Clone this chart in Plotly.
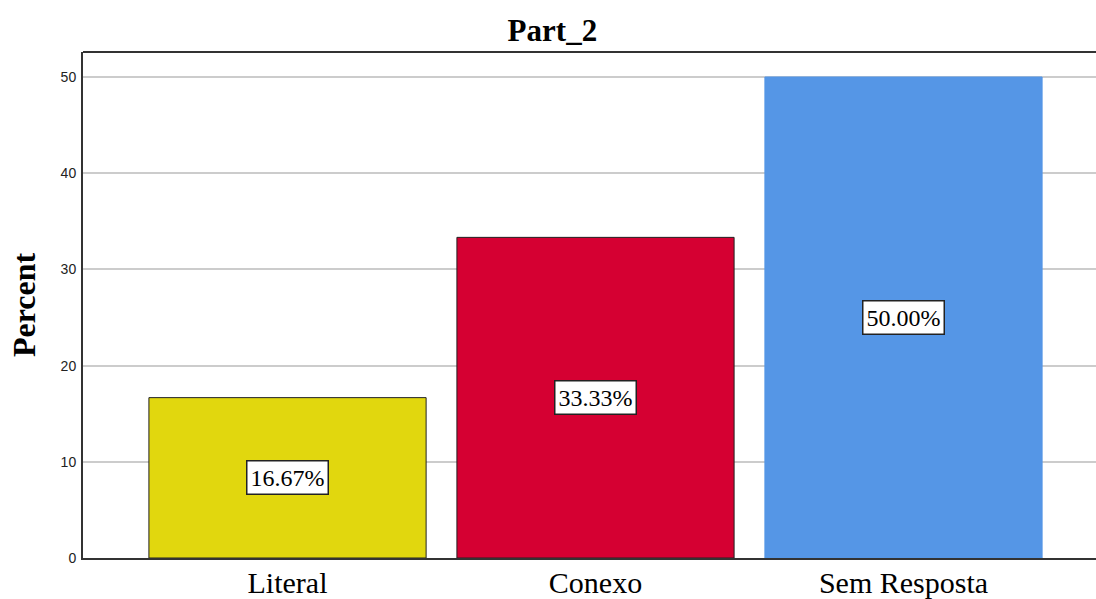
import plotly.graph_objects as go

categories = ["Literal", "Conexo", "Sem Resposta"]
percent = [16.67, 33.33, 50.00]
colors = ["#E1D70E", "#D50032", "#5596E6"]
outline = ["#222222", "#222222", "#5596E6"]
y_ticks = [0, 10, 20, 30, 40, 50]

pos = list(range(len(categories)))

fig = go.Figure()
fig.add_trace(go.Bar(
    x=pos, y=percent, width=0.9,
    marker=dict(color=colors, line=dict(color=outline, width=1)),
    hoverinfo="skip",
))

for xi, v in zip(pos, percent):
    fig.add_annotation(
        x=xi, y=v / 2, xref="x", yref="y",
        text=f"{v:.2f}%", showarrow=False,
        font=dict(family="Liberation Serif", size=24, color="black"),
        bgcolor="white", bordercolor="#222222", borderwidth=1.5, borderpad=3,
    )

# y-axis title
fig.add_annotation(
    x=-0.0582, y=0.5, xref="paper", yref="paper", textangle=-90,
    text="<b>Percent</b>", showarrow=False, xanchor="center", yanchor="middle",
    font=dict(family="Liberation Serif", size=32, color="black"),
)

fig.add_shape(type="line", xref="paper", yref="paper", x0=0, x1=1, y0=1, y1=1,
              line=dict(color="#333333", width=2))

fig.update_layout(
    width=1096, height=599,
    margin=dict(l=83, r=0, t=52, b=41),
    paper_bgcolor="white", plot_bgcolor="white",
    showlegend=False,
    title=dict(text="<b>Part_2</b>", x=0.504, xanchor="center", y=0.95, yanchor="middle",
               xref="container",
               font=dict(family="Liberation Serif", size=31, color="black")),
    xaxis=dict(
        range=[-0.664, 2.625], tickmode="array", tickvals=pos, ticktext=categories,
        showgrid=False, zeroline=False, showline=True, linecolor="#333333", linewidth=2,
        ticks="", automargin=False, ticklabelstandoff=-3,
        tickfont=dict(family="Liberation Serif", size=30, color="black"),
    ),
    yaxis=dict(
        range=[0, 52.6], tickmode="array", tickvals=y_ticks,
        showgrid=True, gridcolor="#cccccc", gridwidth=1.5, zeroline=False,
        showline=True, linecolor="#333333", linewidth=2, ticks="", automargin=False,
        ticklabelstandoff=2,
        tickfont=dict(family="Liberation Sans", size=14, color="#222222"),
    ),
)

fig.write_html("out.html")
